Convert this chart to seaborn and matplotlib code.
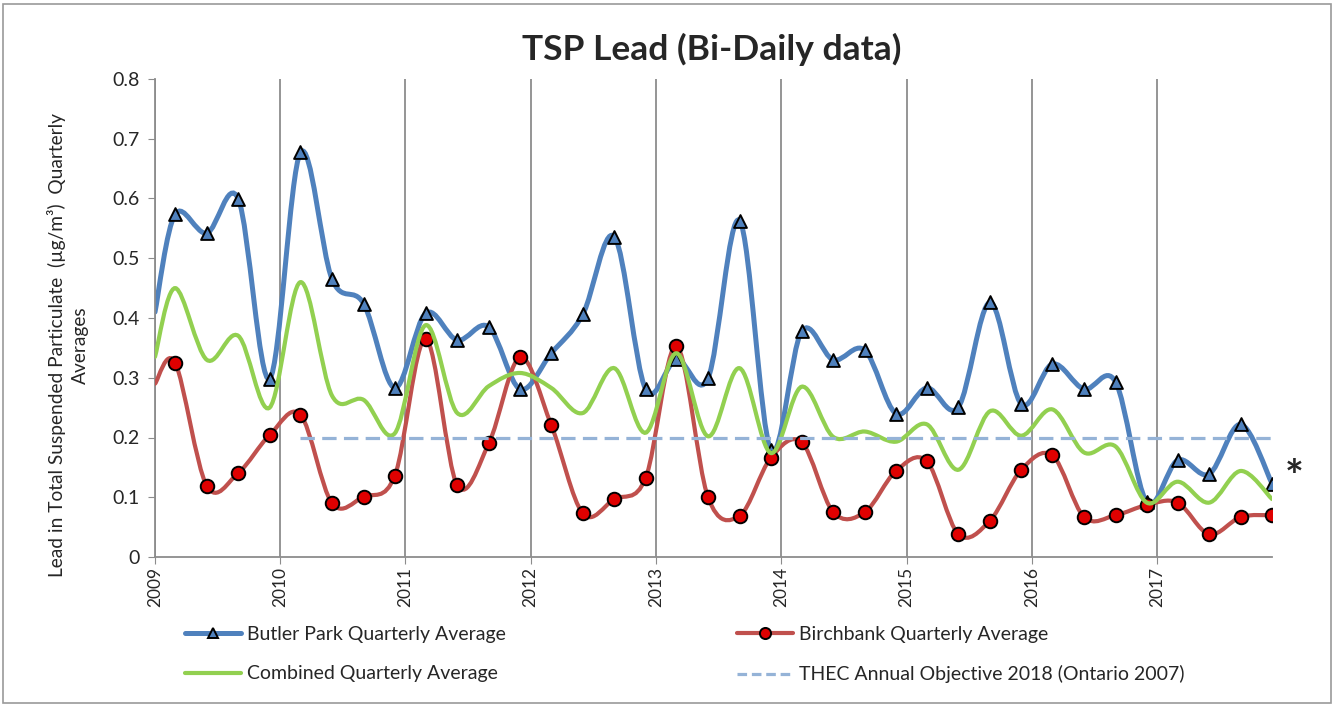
import matplotlib
matplotlib.use("Agg")
import matplotlib.pyplot as plt
import matplotlib.dates as mdates
from matplotlib.path import Path
from matplotlib.patches import PathPatch, Rectangle
from matplotlib.lines import Line2D
import seaborn as sns
import pandas as pd
import numpy as np

# quarterly sampling dates (first entry is where the curves enter the axis)
dates = pd.DatetimeIndex(["2009-01-01"]).append(
    pd.date_range("2009-03-01", periods=36, freq="3MS"))

butler = [0.41,
          0.574, 0.542, 0.599, 0.298, 0.677, 0.465, 0.424, 0.283,
          0.408, 0.363, 0.385, 0.281, 0.341, 0.406, 0.536, 0.281,
          0.331, 0.299, 0.563, 0.179, 0.378, 0.330, 0.346, 0.240,
          0.283, 0.251, 0.426, 0.256, 0.323, 0.281, 0.293, 0.092,
          0.162, 0.139, 0.222, 0.123]
birchbank = [0.29,
             0.325, 0.119, 0.141, 0.204, 0.238, 0.090, 0.101, 0.136,
             0.365, 0.120, 0.190, 0.334, 0.221, 0.073, 0.097, 0.132,
             0.353, 0.100, 0.069, 0.166, 0.192, 0.075, 0.075, 0.144,
             0.160, 0.038, 0.061, 0.146, 0.170, 0.067, 0.070, 0.087,
             0.091, 0.038, 0.067, 0.070]
combined = [0.335,
            0.450, 0.330, 0.370, 0.250, 0.460, 0.270, 0.263, 0.207,
            0.388, 0.241, 0.286, 0.308, 0.283, 0.241, 0.316, 0.208,
            0.341, 0.202, 0.316, 0.174, 0.285, 0.201, 0.210, 0.193,
            0.222, 0.146, 0.244, 0.203, 0.247, 0.175, 0.185, 0.091,
            0.126, 0.091, 0.144, 0.097]
# objective only shown from 2010 Q1 onwards
objective = [np.nan] * 5 + [0.2] * 32

labels = ["Butler Park Quarterly Average", "Birchbank Quarterly Average",
          "Combined Quarterly Average", "THEC Annual Objective 2018 (Ontario 2007)"]

BLUE = "#4f81bd"
RED = "#c0504d"
GREEN = "#92d050"
LIGHTBLUE = "#95b3d7"
GRID = "#8c8c8c"

sns.set_style("white")
plt.rcParams["font.family"] = ["Lato", "DejaVu Sans"]


def smooth_path(x, y):
    """Excel-like smoothed line: Catmull-Rom segments as cubic Beziers."""
    pts = np.column_stack([x, y])
    n = len(pts)
    verts = [pts[0]]
    codes = [Path.MOVETO]
    for i in range(n - 1):
        p0 = pts[i - 1] if i > 0 else pts[i]
        p1, p2 = pts[i], pts[i + 1]
        p3 = pts[i + 2] if i + 2 < n else pts[i + 1]
        verts += [p1 + (p2 - p0) / 6, p2 - (p3 - p1) / 6, p2]
        codes += [Path.CURVE4] * 3
    return Path(verts, codes)


fig = plt.figure(figsize=(13.38, 7.06), dpi=100)
ax = fig.add_axes([155 / 1338, 1 - 557 / 706, (1272 - 155) / 1338, (557 - 79) / 706])

xnum = mdates.date2num(dates.to_pydatetime())

# Butler Park
ax.add_patch(PathPatch(smooth_path(xnum, butler), facecolor="none",
                       edgecolor=BLUE, lw=3.6, capstyle="round", zorder=2))
sns.scatterplot(x=dates[1:], y=butler[1:], marker="^", s=85, color=BLUE,
                edgecolor="black", linewidth=1.4, ax=ax, zorder=3)

# Birchbank
ax.add_patch(PathPatch(smooth_path(xnum, birchbank), facecolor="none",
                       edgecolor=RED, lw=3.0, capstyle="round", zorder=4))
sns.scatterplot(x=dates[1:], y=birchbank[1:], marker="o", s=95, color="#e00000",
                edgecolor="black", linewidth=1.4, ax=ax, zorder=5)

# Combined
ax.add_patch(PathPatch(smooth_path(xnum, combined), facecolor="none",
                       edgecolor=GREEN, lw=3.0, capstyle="round", zorder=6))

# Objective
sns.lineplot(x=dates, y=objective, color=LIGHTBLUE, lw=2.3,
             linestyle=(0, (4.5, 2.3)), ax=ax, zorder=7)

ax.set_xlim(xnum[0], xnum[-1])
ax.set_ylim(0, 0.8)
ax.set_yticks(np.arange(0, 0.81, 0.1))
ax.set_yticklabels(["0"] + [f"{v:.1f}" for v in np.arange(0.1, 0.81, 0.1)])
ax.xaxis.set_major_locator(mdates.YearLocator())
ax.xaxis.set_major_formatter(mdates.DateFormatter("%Y"))
ax.tick_params(axis="x", labelsize=12.5, rotation=90, length=5, color=GRID,
               direction="out", pad=2, bottom=True)
ax.tick_params(axis="y", labelsize=14, length=5, color=GRID, direction="out",
               pad=6, left=True)
ax.grid(axis="x", color=GRID, lw=1.3)
ax.grid(axis="y", visible=False)
for side in ["top", "right"]:
    ax.spines[side].set_visible(False)
for side in ["left", "bottom"]:
    ax.spines[side].set_color(GRID)
    ax.spines[side].set_linewidth(1.3)
ax.set_xlabel("")
ax.set_ylabel("")

fig.text(712 / 1338, 1 - 49 / 706, "TSP Lead (Bi-Daily data)", ha="center",
         va="center", fontsize=25.5, fontweight="bold")
fig.text(68 / 1338, 1 - 345 / 706,
         "Lead in Total Suspended Particulate  (µg/m³)  Quarterly\nAverages",
         rotation=90, ha="center", va="center", fontsize=13.8,
         multialignment="center", linespacing=1.45)
fig.text(1294 / 1338, 1 - 478 / 706, "*", ha="center", va="center",
         fontsize=32, fontweight="bold")

handles = [
    Line2D([], [], color=BLUE, lw=3.6, marker="^", markersize=7,
           markerfacecolor=BLUE, markeredgecolor="black", markeredgewidth=1.4),
    Line2D([], [], color=RED, lw=3.0, marker="o", markersize=8,
           markerfacecolor="#e00000", markeredgecolor="black", markeredgewidth=1.4),
    Line2D([], [], color=GREEN, lw=3.0),
    Line2D([], [], color=LIGHTBLUE, lw=2.3, linestyle=(0, (3, 1.5))),
]
leg_kw = dict(frameon=False, loc="upper left", fontsize=14, handlelength=2.9,
              handletextpad=0.3, labelspacing=1.15, borderpad=0, borderaxespad=0)
fig.legend([handles[0], handles[2]], [labels[0], labels[2]],
           bbox_to_anchor=(185 / 1338, 1 - 626 / 706), **leg_kw)
fig.legend([handles[1], handles[3]], [labels[1], labels[3]],
           bbox_to_anchor=(737 / 1338, 1 - 626 / 706), **leg_kw)

fig.patches.append(Rectangle((3 / 1338, 3 / 706), 1328 / 1338, 699 / 706,
                             transform=fig.transFigure, fill=False,
                             edgecolor="#9a9a9a", lw=1.2))

fig.savefig("out.png", dpi=100)
